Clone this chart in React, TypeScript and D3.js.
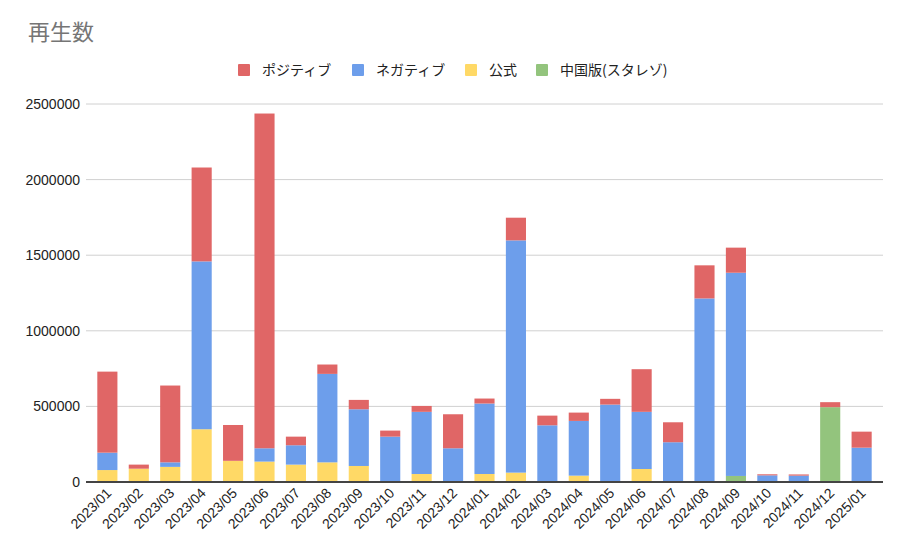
import React from "react";
import * as d3 from "d3";

const months = [
  "2023/01","2023/02","2023/03","2023/04","2023/05","2023/06","2023/07","2023/08","2023/09","2023/10","2023/11","2023/12",
  "2024/01","2024/02","2024/03","2024/04","2024/05","2024/06","2024/07","2024/08","2024/09","2024/10","2024/11","2024/12","2025/01",
];
const positive = [536000,27000,508000,621000,237000,2214000,57000,62000,62000,40000,39000,225000,33000,150000,64000,55000,38000,282000,132000,219000,166000,7000,8000,33000,106000];
const negative = [115000,0,30000,1110000,0,88000,128000,585000,375000,300000,411000,223000,466000,1536000,375000,362000,512000,378000,263000,1214000,1344000,44000,42000,0,227000];
const official = [79000,88000,100000,349000,140000,135000,115000,130000,106000,0,53000,0,53000,62000,0,42000,0,86000,0,0,0,0,0,0,0];
const chinese = [0,0,0,0,0,0,0,0,0,0,0,0,0,0,0,0,0,0,0,0,40000,0,0,495000,0];
const yTicks = [0,500000,1000000,1500000,2000000,2500000];

const seriesNames = ["ポジティブ","ネガティブ","公式","中国版(スタレゾ)"];
const seriesColors = ["#e06666","#6d9eeb","#ffd966","#93c47d"];

const W = 899, H = 545;
const M = { left: 86, right: 883, top: 104, bottom: 482 };
const FONT = "'Liberation Sans', Arial, 'Noto Sans CJK JP', sans-serif";
const JFONT = "'Noto Sans CJK JP', 'Liberation Sans', sans-serif";

export default function App() {
  const x = d3.scaleBand<string>().domain(months).range([M.left, M.right]).paddingInner(0.36).paddingOuter(0.36);
  const y = d3.scaleLinear().domain([0, 2500000]).range([M.bottom, M.top]);

  const rows = months.map((m, i) => ({
    month: m,
    chinese: chinese[i],
    official: official[i],
    negative: negative[i],
    positive: positive[i],
  }));
  const keys = ["chinese","official","negative","positive"];
  const colorByKey: Record<string,string> = {
    positive: seriesColors[0], negative: seriesColors[1], official: seriesColors[2], chinese: seriesColors[3],
  };
  const stacked = d3.stack<any>().keys(keys)(rows);

  const legendX = [238, 352, 465, 536];

  return (
    <svg width={W} height={H} style={{ position: "absolute", left: 0, top: 0, background: "#fff" }}>
      <rect x={0} y={0} width={W} height={H} fill="#fff" />
      <text x={28} y={40} fontSize={22} fill="#757575" fontFamily={JFONT}>再生数</text>
      {seriesNames.map((n, i) => (
        <g key={n}>
          <rect x={legendX[i]} y={64} width={12} height={12} fill={seriesColors[i]} rx={1} />
          <text x={legendX[i] + 24} y={75} fontSize={14} fill="#222" fontFamily={JFONT}>{n}</text>
        </g>
      ))}
      {yTicks.map((t) => (
        <g key={t}>
          {t > 0 && <line x1={M.left} x2={M.right} y1={y(t)} y2={y(t)} stroke="#d0d0d0" strokeWidth={1} />}
          <text x={80} y={y(t) + 5} textAnchor="end" fontSize={14} fill="#222" fontFamily={FONT}>{t}</text>
        </g>
      ))}
      {stacked.map((layer) => (
        <g key={layer.key} fill={colorByKey[layer.key]}>
          {layer.map((d, i) => {
            const h = y(d[0]) - y(d[1]);
            if (h <= 0) return null;
            return <rect key={i} x={x(months[i])!} y={y(d[1])} width={x.bandwidth()} height={h} />;
          })}
        </g>
      ))}
      <line x1={M.left} x2={M.right} y1={M.bottom} y2={M.bottom} stroke="#444" strokeWidth={2} />
      {months.map((m) => {
        const cx = x(m)! + x.bandwidth() / 2;
        return (
          <text key={m} transform={`translate(${cx + 5},${M.bottom + 12}) rotate(-45)`} textAnchor="end"
            fontSize={14} fill="#222" fontFamily={FONT}>{m}</text>
        );
      })}
    </svg>
  );
}
